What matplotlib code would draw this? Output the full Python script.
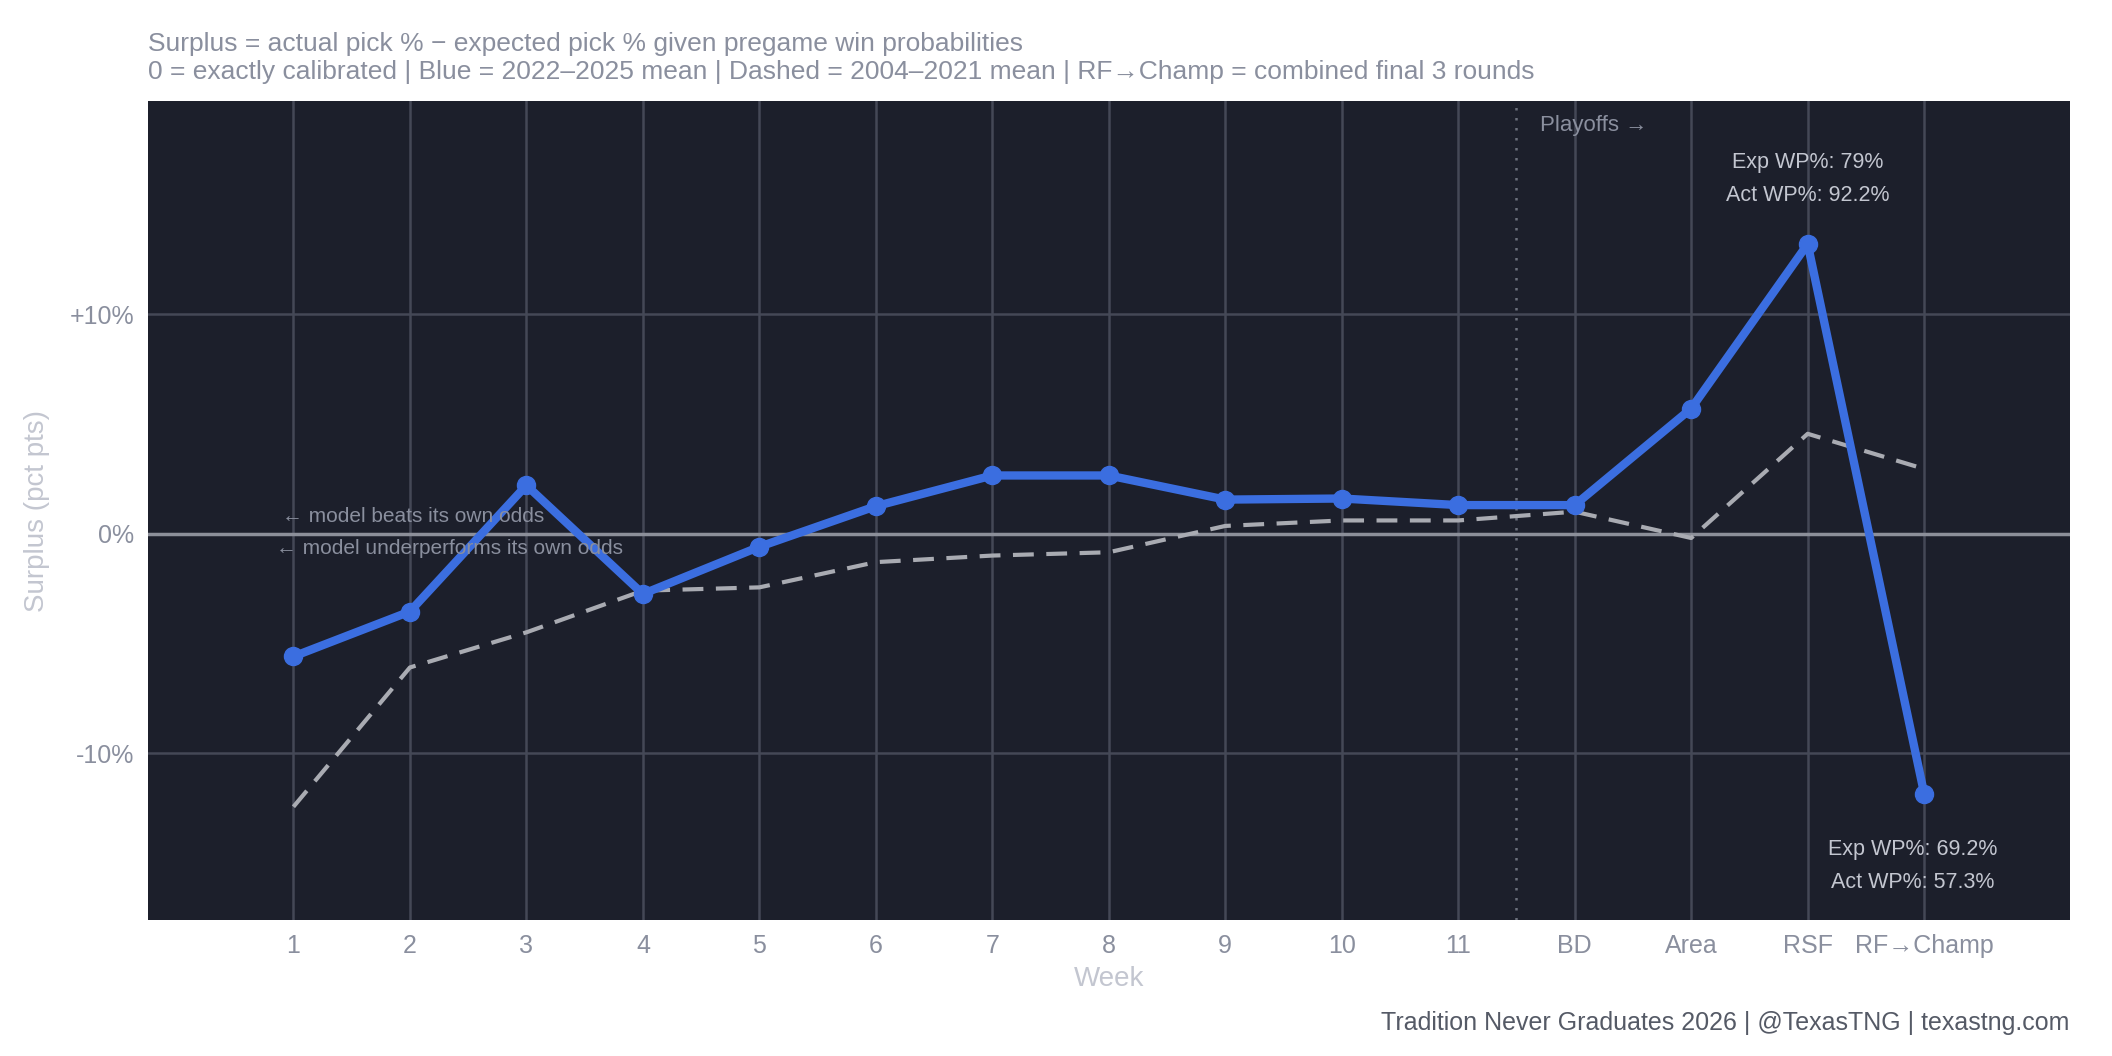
import matplotlib.pyplot as plt

plt.rcParams["font.family"] = ["Liberation Sans", "DejaVu Sans"]

weeks = ["1", "2", "3", "4", "5", "6", "7", "8", "9", "10", "11", "BD", "Area", "RSF", "RF\u2192Champ"]
recent_mean = [-5.6, -3.55, 2.2, -2.75, -0.6, 1.25, 2.65, 2.65, 1.55, 1.6, 1.3, 1.3, 5.7, 13.2, -11.85]
old_mean = [-12.45, -6.1, -4.5, -2.6, -2.45, -1.3, -1.0, -0.85, 0.35, 0.6, 0.6, 1.0, -0.2, 4.55, 2.95]

BG = "#1c1f2b"
TXT = "#8a8f9e"

fig = plt.figure(figsize=(21.12, 10.56), dpi=100)
ax = fig.add_axes([0.070, 0.129, 0.910, 0.775])
ax.set_facecolor(BG)
x = list(range(len(weeks)))

for xi in x:
    ax.axvline(xi, color="#444856", lw=1.8, zorder=0)
for yv in (-10, 10):
    ax.axhline(yv, color="#444856", lw=1.8, zorder=0)
ax.axhline(0, color="#8c8f99", lw=2.5, zorder=1)
ax.axvline(10.5, color="#6b6f7c", lw=1.8, ls=(0, (1, 3)), zorder=1)

ax.plot(x, old_mean, color="#a9abb2", lw=3, ls=(0, (5, 3)), zorder=2)
ax.plot(x, recent_mean, color="#3b6ee0", lw=6, marker="o", ms=13, zorder=3)

ax.set_xlim(-1.25, 15.25)
ax.set_ylim(-17.6, 19.7)
ax.set_xticks(x)
ax.set_xticklabels(weeks)
ax.set_yticks([-10, 0, 10])
ax.set_yticklabels(["-10%", "0%", "+10%"])
ax.tick_params(colors=TXT, labelsize=18, length=0, pad=10)
for s in ax.spines.values():
    s.set_visible(False)
ax.set_xlabel("Week", color="#c3c6d0", fontsize=20, labelpad=6)
ax.set_ylabel("Surplus (pct pts)", color="#c3c6d0", fontsize=20, labelpad=14)

ax.text(-0.1, 0.8, "\u2190 model beats its own odds", color=TXT, fontsize=15, va="center")
ax.text(-0.15, -0.7, "\u2190 model underperforms its own odds", color=TXT, fontsize=15, va="center")
ax.text(10.7, 18.6, "Playoffs \u2192", color=TXT, fontsize=16, va="center")
ax.text(13.0, 16.9, "Exp WP%: 79%", color="#c3c6d0", fontsize=15.5, ha="center", va="center")
ax.text(13.0, 15.4, "Act WP%: 92.2%", color="#c3c6d0", fontsize=15.5, ha="center", va="center")
ax.text(13.9, -14.4, "Exp WP%: 69.2%", color="#c3c6d0", fontsize=15.5, ha="center", va="center")
ax.text(13.9, -15.9, "Act WP%: 57.3%", color="#c3c6d0", fontsize=15.5, ha="center", va="center")

fig.text(0.070, 0.958, "Surplus = actual pick % \u2212 expected pick % given pregame win probabilities",
         color=TXT, fontsize=19, va="center")
fig.text(0.070, 0.932, "0 = exactly calibrated | Blue = 2022\u20132025 mean | Dashed = 2004\u20132021 mean | RF\u2192Champ = combined final 3 rounds",
         color=TXT, fontsize=19, va="center")
fig.text(0.980, 0.031, "Tradition Never Graduates 2026 | @TexasTNG | texastng.com",
         color="#555a66", fontsize=18, ha="right", va="center")

fig.savefig("out.png", dpi=100, facecolor="white")
